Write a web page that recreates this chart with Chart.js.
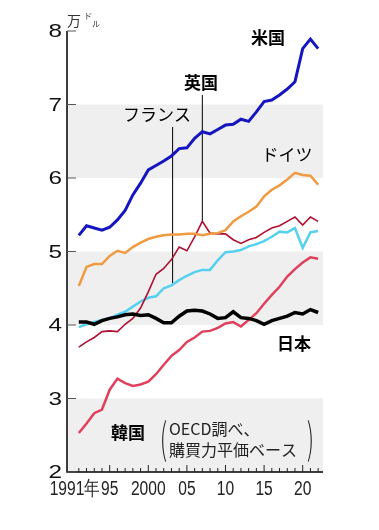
<!DOCTYPE html>
<html>
<head>
<meta charset="utf-8">
<script src="https://cdn.jsdelivr.net/npm/chart.js@4"></script>
<style>
  html, body { margin: 0; padding: 0; background: #fff; }
</style>
</head>
<body>
<canvas id="myChart" width="379" height="530"></canvas>
<script>
// 1人当たり平均賃金（万ドル, 購買力平価ベース）
const years = [1991,1992,1993,1994,1995,1996,1997,1998,1999,2000,2001,2002,2003,2004,2005,2006,
               2007,2008,2009,2010,2011,2012,2013,2014,2015,2016,2017,2018,2019,2020,2021,2022];
const usa     = [5.22,5.35,5.32,5.29,5.33,5.43,5.56,5.77,5.93,6.11,6.17,6.23,6.30,6.40,6.41,6.54,
                 6.63,6.60,6.66,6.72,6.73,6.80,6.77,6.90,7.04,7.06,7.13,7.21,7.31,7.76,7.89,7.76];
const germany = [4.53,4.79,4.83,4.83,4.94,5.01,4.98,5.06,5.12,5.17,5.20,5.22,5.23,5.23,5.24,5.24,
                 5.22,5.24,5.25,5.29,5.41,5.48,5.54,5.61,5.75,5.84,5.90,5.98,6.07,6.04,6.03,5.91];
const uk      = [3.70,3.77,3.83,3.91,3.92,3.91,4.01,4.09,4.23,4.45,4.69,4.77,4.89,5.06,5.01,5.20,
                 5.41,5.25,5.24,5.24,5.16,5.11,5.16,5.19,5.26,5.32,5.35,5.41,5.47,5.36,5.47,5.41];
const france  = [3.97,4.01,4.04,4.07,4.09,4.14,4.18,4.25,4.32,4.37,4.39,4.50,4.54,4.61,4.67,4.72,
                 4.75,4.75,4.88,4.99,5.00,5.02,5.07,5.10,5.14,5.20,5.27,5.26,5.32,5.05,5.26,5.28];
const japan   = [4.04,4.04,4.01,4.06,4.09,4.11,4.14,4.15,4.13,4.14,4.09,4.03,4.03,4.12,4.19,4.20,
                 4.19,4.15,4.09,4.10,4.18,4.10,4.09,4.06,4.01,4.06,4.09,4.12,4.17,4.15,4.21,4.17];
const korea   = [2.53,2.66,2.80,2.85,3.12,3.27,3.21,3.17,3.19,3.23,3.33,3.46,3.58,3.66,3.77,3.83,
                 3.91,3.92,3.96,4.02,4.04,3.98,4.07,4.16,4.29,4.41,4.52,4.66,4.76,4.85,4.92,4.90];

const yTicks = [2,3,4,5,6,7,8];
const grayBands = [[2,3],[4,5],[6,7]];
const xTickYears = [1991,1995,2000,2005,2010,2015,2020];
const xTickText  = ['1991年','95','2000','05','10','15','20'];

const pts = arr => arr.map((v, i) => ({x: years[i], y: v}));

const line = (label, arr, color, width) => ({
  label: label,
  data: pts(arr),
  borderColor: color,
  borderWidth: width,
  pointRadius: 0,
  tension: 0,
  fill: false
});

const decor = {
  id: 'decor',
  beforeDatasetsDraw(chart) {
    const {ctx, chartArea: a, scales: {x, y}} = chart;
    ctx.save();
    // gray bands
    ctx.fillStyle = '#efefef';
    grayBands.forEach(b => {
      const t = y.getPixelForValue(b[1]), btm = y.getPixelForValue(b[0]);
      ctx.fillRect(a.left, t, a.right - a.left, btm - t);
    });
    // leader lines
    ctx.strokeStyle = '#000';
    ctx.lineWidth = 1;
    ctx.beginPath();
    ctx.moveTo(x.getPixelForValue(2003.15), 127);
    ctx.lineTo(x.getPixelForValue(2003.15), y.getPixelForValue(4.57));
    ctx.moveTo(x.getPixelForValue(2007), 95);
    ctx.lineTo(x.getPixelForValue(2007), y.getPixelForValue(5.41));
    ctx.stroke();
    ctx.restore();
  },
  afterDatasetsDraw(chart) {
    const {ctx, chartArea: a, scales: {x, y}} = chart;
    ctx.save();
    // axes
    ctx.strokeStyle = '#000';
    ctx.lineWidth = 1.5;
    ctx.beginPath();
    ctx.moveTo(a.left, a.top);
    ctx.lineTo(a.left, a.bottom);
    ctx.lineTo(a.right, a.bottom);
    ctx.stroke();
    // y ticks + labels
    ctx.lineWidth = 1;
    ctx.strokeStyle = '#555';
    ctx.fillStyle = '#111';
    ctx.font = '19px "Liberation Sans", Arial, sans-serif';
    ctx.textAlign = 'right';
    ctx.textBaseline = 'middle';
    yTicks.forEach(v => {
      const py = y.getPixelForValue(v);
      ctx.beginPath();
      ctx.moveTo(a.left, py);
      ctx.lineTo(a.left + 9, py);
      ctx.stroke();
      ctx.save();
      ctx.translate(62, py + 1);
      ctx.scale(1.28, 1);
      ctx.fillText(String(v), 0, 0);
      ctx.restore();
    });
    // x ticks (every year)
    ctx.strokeStyle = '#222';
    years.forEach(yr => {
      const px = x.getPixelForValue(yr);
      const len = yr % 5 === 0 ? 7 : 4;
      ctx.beginPath();
      ctx.moveTo(px, a.bottom);
      ctx.lineTo(px, a.bottom - len);
      ctx.stroke();
    });
    // x labels
    ctx.font = '20px "Liberation Sans", Arial, sans-serif';
    ctx.textAlign = 'center';
    ctx.textBaseline = 'alphabetic';
    ctx.fillStyle = '#222';
    xTickYears.forEach((yr, i) => {
      let px = x.getPixelForValue(yr);
      if (i === 0) px -= 4;
      ctx.save();
      ctx.translate(px, 495);
      ctx.scale(0.78, 1);
      ctx.fillText(xTickText[i], 0, 0);
      ctx.restore();
    });
    // unit
    ctx.fillStyle = '#333';
    ctx.textAlign = 'left';
    ctx.font = '14px "Noto Sans CJK JP"';
    ctx.fillText('万', 67, 26);
    ctx.font = '8px "Noto Sans CJK JP"';
    ctx.fillText('ド', 84, 19);
    ctx.fillText('ル', 92, 27);
    // series labels
    ctx.fillStyle = '#000';
    ctx.textAlign = 'center';
    ctx.textBaseline = 'middle';
    ctx.font = 'bold 17px "Noto Sans CJK JP"';
    ctx.fillText('米国', 268, 38);
    ctx.fillText('英国', 201, 83);
    ctx.fillText('日本', 294, 344);
    ctx.fillText('韓国', 128, 433);
    ctx.font = '17px "Noto Sans CJK JP"';
    ctx.fillText('フランス', 157, 115);
    ctx.fillText('ドイツ', 287, 155);
    // source note
    ctx.fillStyle = '#222';
    ctx.textAlign = 'left';
    ctx.font = '16px "Noto Sans CJK JP"';
    ctx.fillText('OECD調べ、', 169, 429);
    ctx.fillText('購買力平価ベース', 169, 450);
    ctx.font = '300 40px "Noto Sans CJK JP"';
    ctx.save();
    ctx.translate(160, 438);
    ctx.scale(0.55, 1.05);
    ctx.fillText('(', 0, 0);
    ctx.restore();
    ctx.save();
    ctx.translate(307, 438);
    ctx.scale(0.55, 1.05);
    ctx.fillText(')', 0, 0);
    ctx.restore();
    ctx.restore();
  }
};

new Chart(document.getElementById('myChart'), {
  type: 'line',
  data: {
    datasets: [
      line('米国', usa, '#1616c0', 3),
      line('日本', japan, '#000000', 3.5),
      line('ドイツ', germany, '#f09a42', 2.5),
      line('英国', uk, '#b01030', 1.6),
      line('フランス', france, '#55d0ee', 2.5),
      line('韓国', korea, '#e0405c', 2.5)
    ]
  },
  options: {
    responsive: false,
    animation: false,
    layout: { padding: { left: 67, right: 56, top: 31, bottom: 58 } },
    plugins: { legend: { display: false }, tooltip: { enabled: false } },
    scales: {
      x: { type: 'linear', min: 1989.47, max: 2022.63, display: false },
      y: { min: 2, max: 8, display: false }
    }
  },
  plugins: [decor]
});
</script>
</body>
</html>
